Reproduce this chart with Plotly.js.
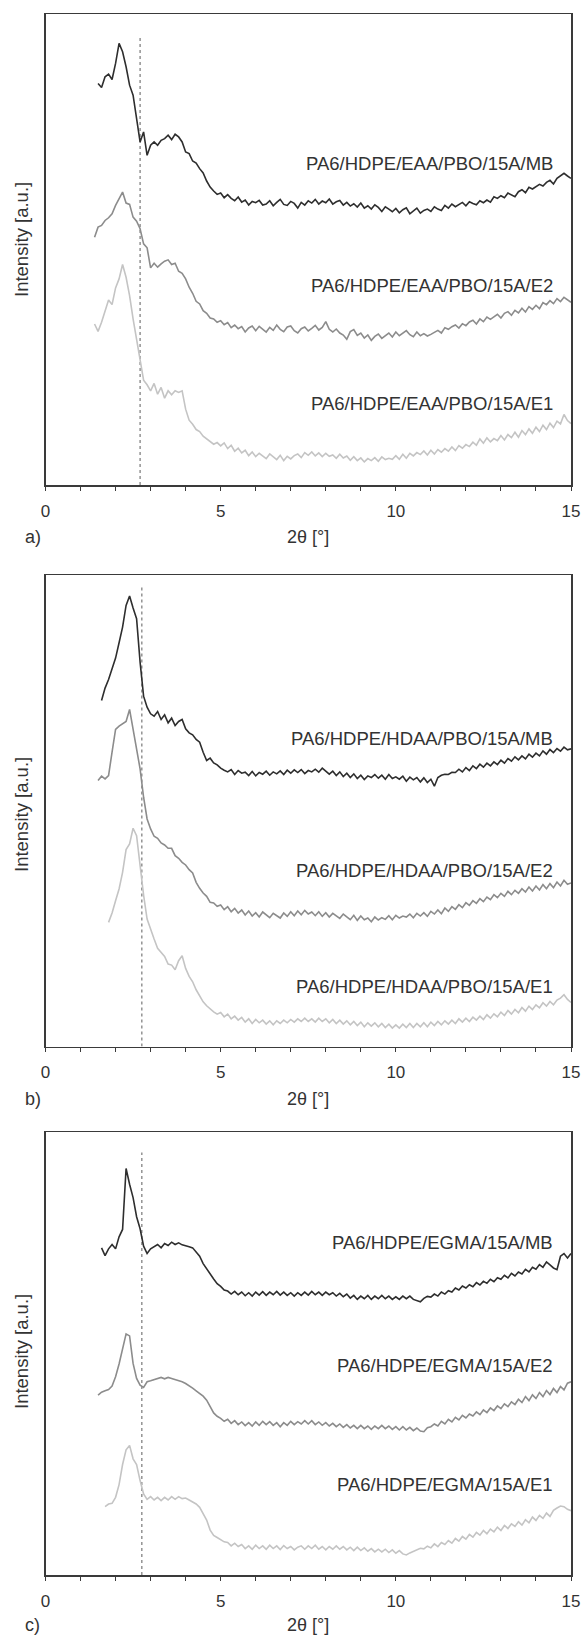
<!DOCTYPE html>
<html>
<head>
<meta charset="utf-8">
<script src="https://cdn.plot.ly/plotly-3.0.1.min.js"></script>
<style>
  html, body { margin: 0; padding: 0; background: #ffffff; }
  #chart { width: 584px; height: 1636px; }
</style>
</head>
<body>
<div id="chart"></div>
<script>
// ---------- DATA ----------
// scan angle grid, 2θ in degrees
const twoTheta = [1.3,1.4,1.5,1.6,1.7,1.8,1.9,
  2.0,2.1,2.2,2.3,2.4,2.5,2.6,2.7,2.8,2.9,
  3.0,3.1,3.2,3.3,3.4,3.5,3.6,3.7,3.8,3.9,
  4.0,4.1,4.2,4.3,4.4,4.5,4.6,4.7,4.8,4.9,
  5.0,5.1,5.2,5.3,5.4,5.5,5.6,5.7,5.8,5.9,
  6.0,6.1,6.2,6.3,6.4,6.5,6.6,6.7,6.8,6.9,
  7.0,7.1,7.2,7.3,7.4,7.5,7.6,7.7,7.8,7.9,
  8.0,8.1,8.2,8.3,8.4,8.5,8.6,8.7,8.8,8.9,
  9.0,9.1,9.2,9.3,9.4,9.5,9.6,9.7,9.8,9.9,
  10.0,10.1,10.2,10.3,10.4,10.5,10.6,10.7,10.8,10.9,
  11.0,11.1,11.2,11.3,11.4,11.5,11.6,11.7,11.8,11.9,
  12.0,12.1,12.2,12.3,12.4,12.5,12.6,12.7,12.8,12.9,
  13.0,13.1,13.2,13.3,13.4,13.5,13.6,13.7,13.8,13.9,
  14.0,14.1,14.2,14.3,14.4,14.5,14.6,14.7,14.8,14.9,
  15.0];

// Panel a) — each series ends at 2θ = 15.0 and starts where the scan starts
const eaaMB = [1202,1190,1222,1230,1214,
  1262,1322,1297,1252,1197,1167,1102,1027,1057,987,
  1017,1027,1017,1032,1037,1047,1034,1050,1042,1027,
  997,992,970,964,947,934,910,892,880,870,
  874,860,869,858,851,862,847,853,838,849,
  845,852,838,841,851,836,846,855,840,837,
  849,843,829,846,838,851,844,855,841,850,
  845,856,841,848,852,838,846,835,842,832,
  844,829,836,826,839,831,819,833,826,818,
  828,815,824,830,812,821,829,814,822,826,
  819,833,826,822,837,829,841,833,840,846,
  836,848,843,839,851,845,853,847,863,858,
  866,860,874,869,863,878,884,875,891,886,
  892,900,895,906,912,901,918,926,933,925,
  918];
const eaaE2 = [742,772,777,792,800,812,
  837,857,877,844,840,802,790,767,722,710,
  650,664,652,662,670,674,660,664,640,634,
  617,592,574,550,542,522,514,500,497,487,
  492,480,486,471,479,468,474,458,470,476,
  462,475,466,458,472,463,479,466,459,473,
  476,462,455,468,473,461,469,478,464,472,
  489,466,458,467,455,449,436,459,465,448,
  455,440,449,433,445,452,439,446,455,443,
  458,447,455,462,450,444,458,447,453,446,
  451,458,463,455,471,466,474,479,470,483,
  477,488,493,482,497,489,503,496,505,511,
  500,514,519,508,523,515,529,518,534,526,
  538,528,546,540,552,543,558,549,562,553,
  547];
const eaaE1 = [482,460,487,522,554,540,
  590,617,660,622,567,497,432,372,314,300,
  282,304,272,292,260,282,270,282,277,282,
  227,194,182,166,160,146,138,130,122,127,
  117,126,109,119,101,110,96,104,88,99,
  85,95,88,79,93,84,76,89,73,86,
  78,88,93,82,97,89,99,87,96,85,
  95,86,90,80,92,81,87,74,85,73,
  81,69,79,73,82,71,84,76,80,77,
  88,77,92,80,95,87,97,91,102,90,
  104,93,106,98,109,101,114,103,118,110,
  121,115,128,119,138,125,141,129,139,133,
  148,135,151,142,158,143,163,151,168,155,
  173,160,179,166,185,172,191,183,211,193,
  184];

// Panel b)
const hdaaMB = [1037,1074,1100,1130,
  1164,1210,1257,1322,1350,1314,1282,1152,1050,1017,
  997,990,1004,980,994,970,984,962,974,980,
  952,940,934,920,912,882,857,864,850,844,
  834,828,823,830,815,827,819,822,812,824,
  811,821,816,825,813,823,817,826,815,828,
  819,829,821,830,818,827,823,831,822,834,
  826,816,825,812,823,809,819,806,817,803,
  813,800,811,806,815,804,813,801,815,803,
  808,801,810,795,807,799,806,793,805,791,
  801,780,806,813,816,815,822,821,831,823,
  836,827,841,833,846,837,849,841,853,845,
  858,849,863,855,868,859,871,862,876,867,
  879,871,886,876,890,881,893,885,897,889,
  892];
const hdaaE2 = [797,810,802,812,882,
  950,960,967,974,1010,952,902,832,747,682,
  652,630,624,610,604,594,594,572,564,552,
  544,530,520,492,474,460,450,432,430,420,
  424,410,419,404,414,400,409,394,406,391,
  401,388,403,395,386,399,391,385,400,390,
  404,392,406,395,408,397,403,392,404,390,
  401,388,399,391,384,397,389,380,393,378,
  391,380,385,374,388,379,386,381,392,380,
  393,385,391,388,397,386,399,391,401,390,
  405,397,409,398,415,405,419,411,425,416,
  431,423,437,429,443,434,448,440,455,446,
  459,450,465,455,468,459,473,463,478,466,
  481,469,485,473,488,476,493,481,498,486,
  490];
const hdaaE1 = [372,400,
  437,472,522,590,607,654,632,542,454,382,
  350,322,294,282,270,247,244,230,257,272,
  234,210,194,170,152,134,122,112,104,97,
  102,89,97,83,91,79,87,73,83,69,
  81,71,79,67,77,65,77,69,79,71,
  81,73,83,75,85,75,83,73,85,75,
  83,71,81,69,79,67,77,65,75,63,
  73,59,71,61,71,59,69,57,67,55,
  65,55,67,57,69,57,69,59,71,59,
  73,63,75,65,77,67,79,69,83,73,
  85,75,88,79,91,81,95,85,98,89,
  103,93,108,97,111,101,117,106,121,111,
  125,116,131,121,135,125,139,145,155,141,
  132];

// Panel c)
const egmaMB = [977,954,974,987,
  974,1010,1032,1214,1167,1127,1070,1034,982,960,
  974,980,987,977,990,984,994,987,992,986,
  984,980,977,966,952,930,914,896,884,870,
  862,851,848,839,847,837,845,834,843,833,
  845,836,846,835,845,837,847,836,845,835,
  843,833,843,835,845,836,847,837,845,835,
  845,837,843,833,841,831,839,827,835,823,
  833,825,835,823,833,825,835,825,833,823,
  831,823,833,825,833,823,820,816,826,832,
  830,839,833,845,839,849,845,857,851,863,
  857,867,861,873,866,877,871,883,876,888,
  883,895,887,901,893,905,899,913,905,919,
  913,927,919,935,926,917,912,952,960,947,
  960];
const egmaE2 = [537,546,550,554,564,
  592,630,672,720,714,632,587,567,560,577,
  580,584,586,590,586,590,587,584,582,577,
  572,566,558,550,542,534,522,504,484,474,
  468,459,465,453,461,449,457,446,455,445,
  457,447,459,449,458,447,455,443,455,447,
  459,449,458,451,461,451,461,449,457,447,
  455,445,453,443,451,441,449,439,447,437,
  447,437,445,435,445,437,447,437,445,435,
  443,433,443,433,441,431,439,430,428,440,
  443,451,445,459,451,465,457,471,463,477,
  469,481,475,487,479,493,485,499,491,505,
  497,511,503,517,509,525,515,533,521,538,
  527,545,533,551,539,557,545,563,553,573,
  577];
const egmaE1 = [204,212,214,
  232,270,330,374,387,347,330,282,242,226,
  234,224,232,222,232,224,234,226,234,228,
  230,224,218,212,202,182,164,134,118,112,
  106,99,97,87,95,85,91,79,87,77,
  89,79,87,77,89,79,87,76,88,79,
  85,75,83,87,77,87,79,89,77,85,
  75,85,77,87,77,85,75,83,73,83,
  73,81,71,79,69,77,69,77,67,75,
  65,73,63,60,66,70,76,80,78,86,
  81,93,85,97,91,103,95,109,101,115,
  107,121,113,127,119,133,123,137,129,143,
  133,148,139,153,145,159,149,165,156,173,
  163,178,169,185,175,193,200,206,204,196,
  192];

const seriesNames = [
  ["PA6/HDPE/EAA/PBO/15A/MB", "PA6/HDPE/EAA/PBO/15A/E2", "PA6/HDPE/EAA/PBO/15A/E1"],
  ["PA6/HDPE/HDAA/PBO/15A/MB", "PA6/HDPE/HDAA/PBO/15A/E2", "PA6/HDPE/HDAA/PBO/15A/E1"],
  ["PA6/HDPE/EGMA/15A/MB", "PA6/HDPE/EGMA/15A/E2", "PA6/HDPE/EGMA/15A/E1"]
];
const seriesValues = [
  [eaaMB, eaaE2, eaaE1],
  [hdaaMB, hdaaE2, hdaaE1],
  [egmaMB, egmaE2, egmaE1]
];
const panelLetters = ["a)", "b)", "c)"];
const refAngle = [2.70, 2.75, 2.75];       // dotted reference line position, 2θ
const refLineTop = [1347, 1377, 1262];     // top end of the dotted line (a.u.)
const intensityMax = [1410, 1413, 1323];   // y-axis upper limit (a.u.)
const xTickVals = [0,1,2,3,4,5,6,7,8,9,10,11,12,13,14,15];
const xTickText = ["0","","","","","5","","","","","10","","","","","15"];

// ---------- LAYOUT / STYLE ----------
const W = 584, H = 1636;
const FONT = "Liberation Sans, Arial, sans-serif";
const TXT = "#333333";
const AX = "#3a3a3a";
const lineColors = ["#2e2e2e", "#8c8c8c", "#c4c4c4"];
const plotLeft = 45.5, plotRight = 571;
const panelPx = [{top: 14, bottom: 485}, {top: 575, bottom: 1046.5}, {top: 1132, bottom: 1575}];
const labelPx = [[164, 285, 403], [738, 870, 986], [1242, 1365, 1484]];
const yTitlePx = [240, 815, 1352];
const xTitlePx = [537, 1099, 1625];

const traces = [];
const layout = {
  width: W, height: H,
  margin: {l: 0, r: 0, t: 0, b: 0},
  paper_bgcolor: "#ffffff", plot_bgcolor: "#ffffff",
  showlegend: false,
  font: {family: FONT, color: TXT},
  annotations: []
};

panelPx.forEach((p, i) => {
  const n = i === 0 ? "" : String(i + 1);
  const xa = "x" + n, ya = "y" + n;
  layout["xaxis" + n] = {
    domain: [plotLeft / W, plotRight / W],
    anchor: ya, range: [0, 15],
    tickmode: "array", tickvals: xTickVals, ticktext: xTickText,
    ticks: "outside", ticklen: 4, tickwidth: 1, tickcolor: AX,
    ticklabelstandoff: 6,
    showline: true, linecolor: AX, linewidth: 1.5, mirror: true,
    showgrid: false, zeroline: false,
    tickfont: {family: FONT, size: 17, color: TXT}
  };
  layout["yaxis" + n] = {
    domain: [1 - p.bottom / H, 1 - p.top / H],
    anchor: xa, range: [0, intensityMax[i]],
    showticklabels: false, ticks: "",
    showline: true, linecolor: AX, linewidth: 1.5, mirror: true,
    showgrid: false, zeroline: false
  };

  // dotted reference line
  traces.push({
    x: [refAngle[i], refAngle[i]], y: [0, refLineTop[i]],
    xaxis: xa, yaxis: ya, mode: "lines", hoverinfo: "skip",
    line: {color: "#777777", width: 1.2, dash: "dot"}
  });

  // three diffractograms, light first
  for (let k = 2; k >= 0; k--) {
    const vals = seriesValues[i][k];
    traces.push({
      x: twoTheta.slice(twoTheta.length - vals.length), y: vals,
      xaxis: xa, yaxis: ya, mode: "lines", name: seriesNames[i][k],
      line: {color: lineColors[k], width: 1.6}
    });
    layout.annotations.push({
      xref: "paper", yref: "paper",
      x: 555 / W, y: 1 - labelPx[i][k] / H,
      xanchor: "right", yanchor: "middle", showarrow: false,
      text: seriesNames[i][k],
      font: {family: FONT, size: 18.5, color: TXT}
    });
  }

  // y title
  layout.annotations.push({
    xref: "paper", yref: "paper",
    x: 21 / W, y: 1 - yTitlePx[i] / H,
    xanchor: "center", yanchor: "middle", showarrow: false, textangle: -90,
    text: "Intensity [a.u.]",
    font: {family: FONT, size: 18.5, color: TXT}
  });
  // x title
  layout.annotations.push({
    xref: "paper", yref: "paper",
    x: ((plotLeft + plotRight) / 2) / W, y: 1 - xTitlePx[i] / H,
    xanchor: "center", yanchor: "middle", showarrow: false,
    text: "2θ [°]",
    font: {family: FONT, size: 18, color: TXT}
  });
  // panel letter
  layout.annotations.push({
    xref: "paper", yref: "paper",
    x: 23 / W, y: 1 - xTitlePx[i] / H,
    xanchor: "left", yanchor: "middle", showarrow: false,
    text: panelLetters[i],
    font: {family: FONT, size: 18, color: TXT}
  });
});

Plotly.newPlot("chart", traces, layout, {staticPlot: true, displayModeBar: false});
</script>
</body>
</html>
